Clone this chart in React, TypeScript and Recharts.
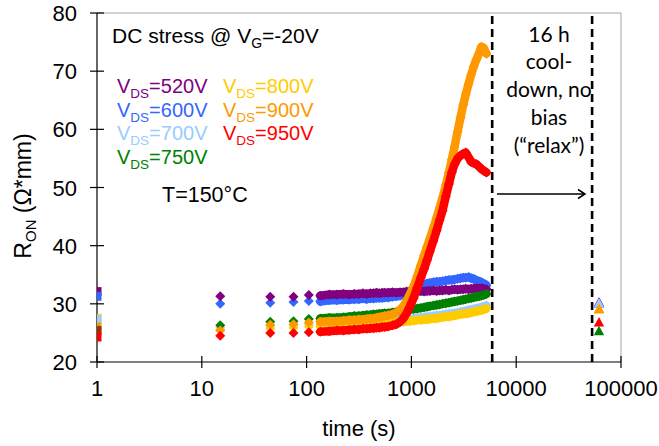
import React from 'react';
import { ScatterChart, Scatter, XAxis, YAxis, ReferenceLine } from 'recharts';

// ---- data ----
const stressTimes = [15, 45, 75, 105, 135, 165, 195, 225, 255, 285, 315, 345, 375, 405, 435, 465, 495, 525, 555, 600, 660, 720, 780, 840, 900, 960, 1050, 1140, 1230, 1320, 1410, 1500, 1620, 1740, 1860, 1980, 2130, 2280, 2430, 2580, 2760, 2940, 3120, 3300, 3510, 3720, 3930, 4170, 4410, 4650, 4890, 5200];

const ron520 = [31.3, 31.2, 31.2, 31.5, 31.4, 31.6, 31.6, 31.7, 31.6, 31.7, 31.7, 31.8, 31.7, 31.8, 31.8, 31.9, 31.8, 31.9, 31.9, 31.9, 32.0, 31.9, 32.0, 32.0, 32.1, 32.0, 32.1, 32.1, 32.2, 32.1, 32.2, 32.2, 32.3, 32.2, 32.3, 32.3, 32.4, 32.3, 32.4, 32.5, 32.4, 32.5, 32.5, 32.6, 32.5, 32.6, 32.6, 32.7, 32.6, 32.7, 32.6, 32.5];
const ron600 = [30.0, 30.2, 30.3, 30.5, 30.4, 30.6, 30.6, 30.7, 30.7, 30.8, 30.8, 30.9, 30.8, 30.9, 30.9, 31.0, 31.0, 31.0, 31.1, 31.1, 31.2, 31.3, 31.4, 31.6, 31.8, 32.1, 32.5, 32.8, 33.1, 33.3, 33.5, 33.6, 33.7, 33.8, 33.8, 33.9, 34.0, 34.1, 34.1, 34.2, 34.3, 34.4, 34.5, 34.5, 34.6, 34.4, 34.3, 34.0, 33.9, 33.7, 33.5, 33.2];
const ron700 = [25.9, 26.2, 26.3, 26.5, 26.5, 26.6, 26.6, 26.7, 26.7, 26.8, 26.8, 26.9, 26.9, 26.9, 27.0, 27.0, 27.0, 27.1, 27.1, 27.1, 27.2, 27.2, 27.3, 27.3, 27.4, 27.4, 27.5, 27.6, 27.6, 27.7, 27.8, 27.8, 27.9, 28.0, 28.0, 28.1, 28.2, 28.3, 28.3, 28.4, 28.5, 28.6, 28.7, 28.8, 28.9, 29.0, 29.1, 29.2, 29.3, 29.4, 29.5, 29.7];
const ron750 = [26.3, 26.9, 27.0, 27.4, 27.5, 27.6, 27.6, 27.7, 27.8, 27.9, 27.9, 28.0, 28.1, 28.1, 28.2, 28.2, 28.3, 28.3, 28.4, 28.4, 28.5, 28.6, 28.7, 28.8, 28.9, 29.0, 29.1, 29.2, 29.3, 29.4, 29.5, 29.6, 29.7, 29.8, 29.9, 30.0, 30.1, 30.2, 30.3, 30.4, 30.5, 30.6, 30.7, 30.8, 30.9, 31.0, 31.1, 31.2, 31.3, 31.4, 31.5, 31.7];
const ron800 = [25.5, 25.8, 25.9, 26.1, 26.1, 26.2, 26.2, 26.3, 26.3, 26.4, 26.4, 26.5, 26.5, 26.5, 26.6, 26.6, 26.6, 26.7, 26.7, 26.7, 26.8, 26.8, 26.9, 26.9, 27.0, 27.0, 27.1, 27.2, 27.2, 27.3, 27.3, 27.4, 27.5, 27.5, 27.6, 27.7, 27.8, 27.8, 27.9, 28.0, 28.1, 28.2, 28.3, 28.3, 28.4, 28.5, 28.6, 28.7, 28.8, 28.9, 29.0, 29.2];
const ron900 = [25.4, 26.4, 26.5, 26.8, 26.9, 27.0, 27.0, 27.1, 27.2, 27.2, 27.3, 27.3, 27.4, 27.5, 27.5, 27.6, 27.7, 27.8, 27.9, 28.0, 28.2, 28.5, 29.0, 29.6, 30.5, 31.5, 33.0, 34.8, 36.6, 38.3, 39.8, 41.2, 43.0, 44.8, 46.5, 48.2, 50.4, 52.6, 54.8, 57.0, 59.6, 62.0, 64.2, 66.0, 67.8, 69.4, 70.8, 72.0, 73.0, 74.2, 74.0, 73.0];
const ron950 = [24.5, 25.0, 25.0, 25.1, 25.2, 25.3, 25.4, 25.4, 25.5, 25.6, 25.6, 25.7, 25.7, 25.8, 25.8, 25.9, 25.9, 26.0, 26.0, 26.1, 26.3, 26.5, 26.9, 27.5, 28.4, 29.4, 31.0, 32.8, 34.5, 36.0, 37.5, 39.0, 40.8, 42.6, 44.4, 46.0, 48.5, 50.6, 52.6, 54.0, 55.0, 55.5, 55.8, 56.0, 55.2, 54.4, 54.2, 54.0, 53.6, 53.2, 52.9, 52.6];

// index where the sampling becomes continuous (markers overlap)
const denseFrom = 4;

// initial value at t = 1 s (squares), drawing order
const initTime = 1;
const initRon = [32.1, 31.3, 27.5, 27.3, 26.0, 25.4, 24.3];
const initColors = ['#800080', '#3366FF', '#FFCC00', '#99CCFF', '#FF9900', '#993300', '#FF0000'];

// after 16 h relax (triangles), drawing order
const relaxTime = 61700;
const relaxRon = [30.0, 30.25, 30.05, 29.0, 29.1, 26.8, 25.3];
const relaxColors = ['#3366FF', '#800080', '#99CCFF', '#FFCC00', '#FF9900', '#FF0000', '#008000'];

const xTicks = [1, 10, 100, 1000, 10000, 100000];
const yTicks = [20, 30, 40, 50, 60, 70, 80];
const coolStart = 5900;
const coolEnd = 53000;

// stress series in drawing order
const stressSeries = [
  { name: '600V', vals: ron600, color: '#3366FF' },
  { name: '520V', vals: ron520, color: '#800080' },
  { name: '700V', vals: ron700, color: '#99CCFF' },
  { name: '800V', vals: ron800, color: '#FFCC00' },
  { name: '750V', vals: ron750, color: '#008000' },
  { name: '900V', vals: ron900, color: '#FF9900' },
  { name: '950V', vals: ron950, color: '#FF0000' },
];

const legendCol1 = [
  { label: '520V', color: '#800080' },
  { label: '600V', color: '#3366FF' },
  { label: '700V', color: '#99CCFF' },
  { label: '750V', color: '#008000' },
];
const legendCol2 = [
  { label: '800V', color: '#FFCC00' },
  { label: '900V', color: '#FF9900' },
  { label: '950V', color: '#FF0000' },
];

const relaxLines = ['16 h', 'cool-', 'down, no', 'bias', '(\u201Crelax\u201D)'];

const toPts = (vals: number[], from: number, to: number) =>
  stressTimes.slice(from, to).map((t, i) => ({ t, v: vals[from + i] }));

const SANS = '"Liberation Sans", Arial, sans-serif';

const Diamond = (p: any) => {
  const { cx, cy, fill } = p;
  if (cx == null || cy == null) return null;
  const r = 5;
  return <polygon points={`${cx},${cy - r} ${cx + r},${cy} ${cx},${cy + r} ${cx - r},${cy}`} fill={fill} />;
};
const Square = (p: any) => {
  const { cx, cy, fill } = p;
  if (cx == null || cy == null) return null;
  return <rect x={cx - 4.5} y={cy - 4.5} width={9} height={9} fill={fill} />;
};
const Triangle = (p: any) => {
  const { cx, cy, fill } = p;
  if (cx == null || cy == null) return null;
  return <polygon points={`${cx},${cy - 5.5} ${cx + 5.2},${cy + 4} ${cx - 5.2},${cy + 4}`} fill={fill} />;
};

const XTick = (p: any) => {
  const { x, y, payload } = p;
  return (
    <g>
      <line x1={x} x2={x} y1={y - 6} y2={y + 6} stroke="#000" strokeWidth={1.2} />
      <text x={x} y={y + 34} textAnchor="middle" fontFamily={SANS} fontSize={22} fill="#000">
        {payload.value}
      </text>
    </g>
  );
};
const YTick = (p: any) => {
  const { x, y, payload } = p;
  return (
    <g>
      <line x1={x - 7} x2={x + 7} y1={y} y2={y} stroke="#000" strokeWidth={1.2} />
      <text x={x - 20} y={y + 8} textAnchor="end" fontFamily={SANS} fontSize={22} fill="#000">
        {payload.value}
      </text>
    </g>
  );
};

const Sub = ({ main, sub, after, size }: { main: string; sub: string; after: string; size: number }) => (
  <>
    {main}
    <tspan dy={5} fontSize={size}>{sub}</tspan>
    <tspan dy={-5}>{after}</tspan>
  </>
);

export default function App() {
  const W = 659;
  const H = 446;
  return (
    <div style={{ position: 'absolute', left: 0, top: 0, width: W, height: H, background: '#fff' }}>
      <ScatterChart width={W} height={H} margin={{ top: 13, right: 38, left: 0, bottom: 0 }}>
        <XAxis
          dataKey="t"
          type="number"
          scale="log"
          domain={[1, 100000]}
          ticks={xTicks}
          allowDataOverflow
          height={84}
          tickSize={0}
          tickMargin={0}
          tickLine={false}
          axisLine={{ stroke: '#000', strokeWidth: 1.2 }}
          tick={<XTick />}
          interval={0}
        />
        <YAxis
          dataKey="v"
          type="number"
          domain={[20, 80]}
          ticks={yTicks}
          allowDataOverflow
          width={97}
          tickSize={0}
          tickMargin={0}
          tickLine={false}
          axisLine={{ stroke: '#000', strokeWidth: 1.2 }}
          tick={<YTick />}
          interval={0}
        />
        <ReferenceLine y={80} stroke="#A6A6A6" strokeWidth={1} />
        <ReferenceLine x={100000} stroke="#A6A6A6" strokeWidth={1} />
        <ReferenceLine x={coolStart} stroke="#000" strokeWidth={2.6} strokeDasharray="8 5" />
        <ReferenceLine x={coolEnd} stroke="#000" strokeWidth={2.6} strokeDasharray="8 5" />
        {stressSeries.map((s) => (
          <Scatter
            key={s.name + 'sparse'}
            data={toPts(s.vals, 0, denseFrom)}
            fill={s.color}
            shape={<Diamond />}
            isAnimationActive={false}
          />
        ))}
        {stressSeries.map((s) => (
          <Scatter
            key={s.name}
            name={s.name}
            data={toPts(s.vals, denseFrom, stressTimes.length)}
            fill={s.color}
            shape={<Diamond />}
            line={{ stroke: s.color, strokeWidth: 8.5, strokeLinejoin: 'round', strokeLinecap: 'round' }}
            isAnimationActive={false}
          />
        ))}
        {initRon.map((v, i) => (
          <Scatter
            key={'init' + i}
            data={[{ t: initTime, v }]}
            fill={initColors[i]}
            shape={<Square />}
            isAnimationActive={false}
          />
        ))}
        {relaxRon.map((v, i) => (
          <Scatter
            key={'relax' + i}
            data={[{ t: relaxTime, v }]}
            fill={relaxColors[i]}
            shape={<Triangle />}
            isAnimationActive={false}
          />
        ))}
      </ScatterChart>
      <svg
        width={W}
        height={H}
        style={{ position: 'absolute', left: 0, top: 0, pointerEvents: 'none' }}
      >
        <text x={112} y={42.5} fontFamily={SANS} fontSize={21} fill="#000">
          <Sub main="DC stress @ V" sub="G" after="=-20V" size={14} />
        </text>
        {legendCol1.map((l, i) => (
          <text key={l.label} x={117} y={93 + i * 23.6} fontFamily={SANS} fontSize={20} fill={l.color}>
            <Sub main="V" sub="DS" after={'=' + l.label} size={13.5} />
          </text>
        ))}
        {legendCol2.map((l, i) => (
          <text key={l.label} x={223} y={93 + i * 23.6} fontFamily={SANS} fontSize={20} fill={l.color}>
            <Sub main="V" sub="DS" after={'=' + l.label} size={13.5} />
          </text>
        ))}
        <text x={162} y={201.5} fontFamily={SANS} fontSize={21.5} fill="#000">T=150°C</text>
        {relaxLines.map((line, i) => (
          <text key={i} x={549} y={41.5 + i * 27.9} textAnchor="middle" fontFamily="Lato, sans-serif" fontSize={21} fill="#000">
            {line}
          </text>
        ))}
        <line x1={497} x2={585} y1={194} y2={194} stroke="#000" strokeWidth={1.5} />
        <polyline points="578,189.5 585,194 578,198.5" fill="none" stroke="#000" strokeWidth={1.5} />
        <text x={359} y={436} textAnchor="middle" fontFamily={SANS} fontSize={22} fill="#000">time (s)</text>
        <text x={31} y={196} transform="rotate(-90 31 196)" textAnchor="middle" fontFamily={SANS} fontSize={23} fill="#000">
          R<tspan dy={5} fontSize={15}>ON</tspan><tspan dy={-5}> (Ω*mm)</tspan>
        </text>
      </svg>
    </div>
  );
}
